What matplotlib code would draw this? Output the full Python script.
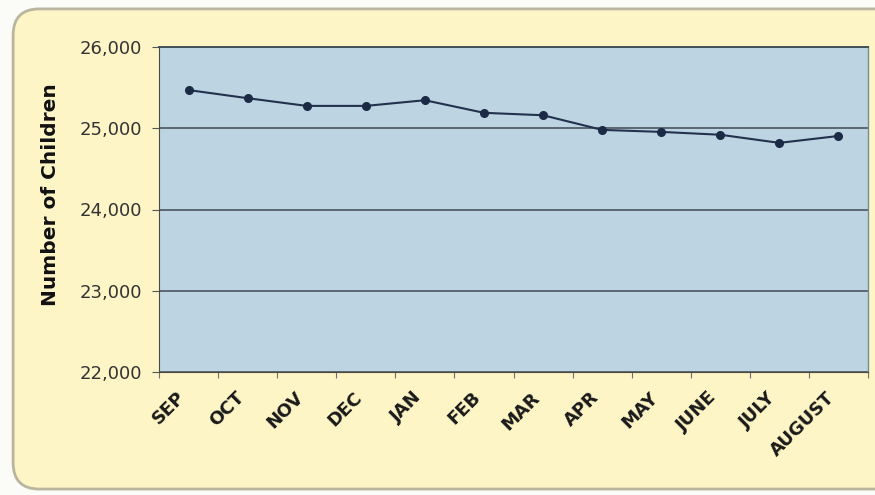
import matplotlib.pyplot as plt
from matplotlib.patches import FancyBboxPatch
from matplotlib.ticker import FuncFormatter, FixedLocator

# monthly enrolment, September through August
months = ['SEP', 'OCT', 'NOV', 'DEC', 'JAN', 'FEB', 'MAR', 'APR', 'MAY', 'JUNE', 'JULY', 'AUGUST']
children = [25470, 25370, 25275, 25275, 25345, 25190, 25160, 24980, 24955, 24920, 24820, 24905]
yticks = [22000, 23000, 24000, 25000, 26000]

fig = plt.figure(figsize=(8.75, 4.95), dpi=100)
fig.patch.set_facecolor('#fbfbf8')

# cream panel with rounded corners behind the chart
panel = FancyBboxPatch((0.015, 0.012), 1.2, 0.97, boxstyle='round,pad=0,rounding_size=0.03',
                       transform=fig.transFigure, facecolor='#fdf5c6', edgecolor='#b9b59e',
                       linewidth=2.0, mutation_aspect=875 / 495, zorder=-10)
fig.patches.append(panel)

ax = fig.add_axes([159 / 875, 1 - 372 / 495, (868 - 159) / 875, (372 - 47) / 495])
ax.set_facecolor('#bdd4e2')

x = list(range(len(months)))
ax.plot(x, children, color='#22324e', linewidth=1.5, marker='o', markersize=5.5,
        markerfacecolor='#1c2b45', markeredgecolor='#1c2b45', zorder=3)

ax.set_xlim(-0.5, len(months) - 0.5)
ax.set_ylim(22000, 26000)
ax.set_yticks(yticks)
ax.yaxis.set_major_formatter(FuncFormatter(lambda v, p: f'{int(v):,}'))
ax.yaxis.grid(True, color='#4a5560', linewidth=1.2)
ax.set_axisbelow(True)

# category ticks sit between the months, labels under each point
ax.xaxis.set_major_locator(FixedLocator([i - 0.5 for i in range(len(months) + 1)]))
ax.set_xticklabels([])
ax.set_xticks(x, minor=True)
ax.set_xticklabels(months, minor=True, rotation=45, ha='right', va='bottom',
                   rotation_mode='anchor', fontsize=13, fontweight='bold', color='#1a1a1a')
ax.tick_params(axis='x', which='minor', length=0, pad=21)
ax.tick_params(axis='x', which='major', length=4, color='#707070', direction='out')
ax.tick_params(axis='y', length=5, color='#555555', labelsize=13, labelcolor='#333333', pad=7)

for side in ['top', 'right']:
    ax.spines[side].set_color('#7a8a90')
    ax.spines[side].set_linewidth(1.0)
ax.spines['left'].set_color('#4a4a40')
ax.spines['bottom'].set_color('#4a4a40')
ax.spines['top'].set_color('#44505a')
ax.spines['top'].set_linewidth(1.4)

ax.set_ylabel('Number of Children', fontsize=14.5, fontweight='bold', color='#111111')
ax.yaxis.set_label_coords(-0.14, 0.545)

fig.savefig('out.png', dpi=100, facecolor=fig.get_facecolor())
